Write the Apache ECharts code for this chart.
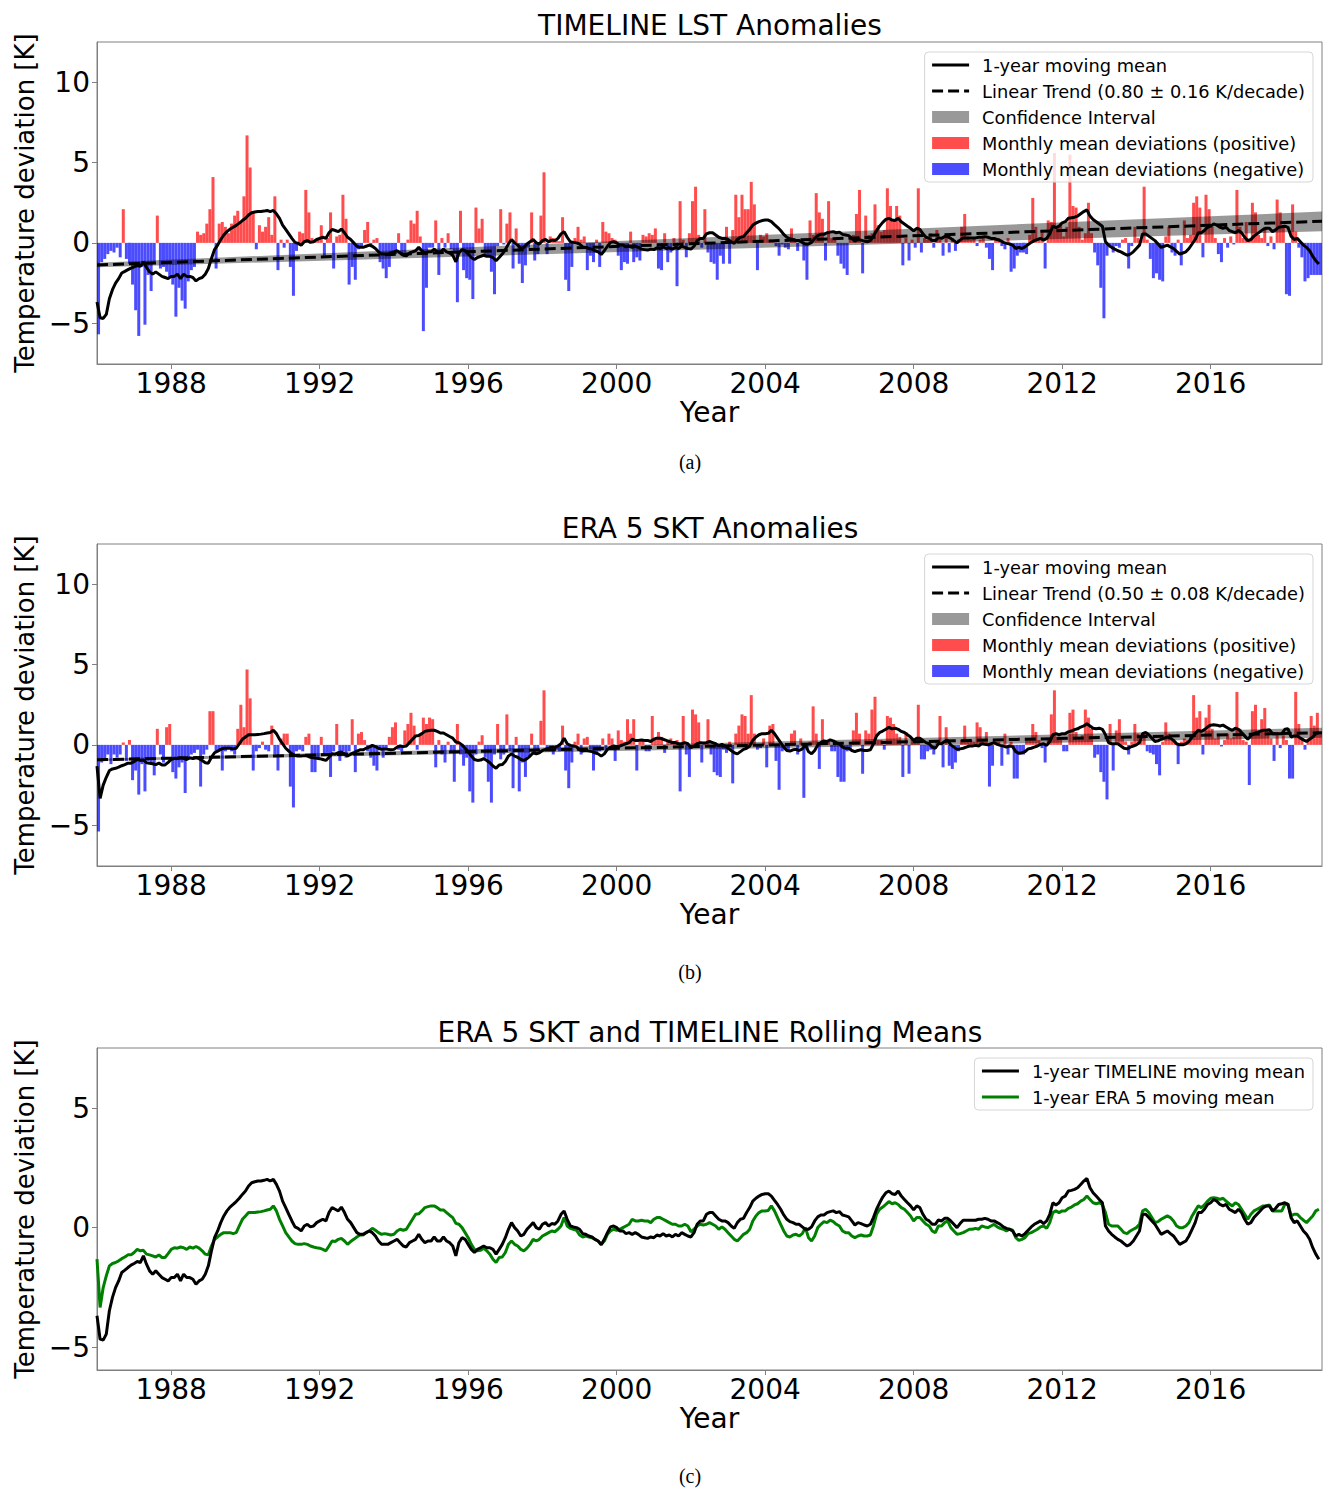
<!DOCTYPE html>
<html>
<head>
<meta charset="utf-8">
<title>TIMELINE LST and ERA 5 SKT anomalies</title>
<script src="https://cdn.jsdelivr.net/npm/echarts@6/dist/echarts.min.js"></script>
<style>
  html, body { margin: 0; padding: 0; background: #ffffff; }
  #chart { width: 1325px; height: 1488px; }
</style>
</head>
<body>
<div id="chart"></div>
<script>
// monthly anomalies [K], Jan 1986 .. Dec 2018, one row per year
var lstMonthly = [
  -5.7, -1.2, -1.0, -0.7, -0.5, -0.6, -0.3, -0.9, 2.1, -1.0, -1.3, -2.6,   // 1986
  -4.2, -5.8, -1.5, -5.1, -2.0, -3.0, -1.2, 1.7, -1.6, -1.5, -1.8, -2.2,   // 1987
  -2.6, -4.6, -2.8, -3.6, -4.1, -2.4, -1.7, -1.5, 0.7, 0.5, 0.6, 1.2,      // 1988
  2.1, 4.1, -1.6, 1.2, 1.3, 1.0, 0.6, 1.2, 1.7, 2.0, 1.3, 2.9,             // 1989
  6.7, 4.7, 1.9, -0.4, 1.1, 0.7, 1.0, 1.6, 0.5, 2.9, -1.7, 0.2,            // 1990
  -0.3, 0.2, -1.5, -3.3, -0.5, 0.7, 0.6, 3.3, 1.9, 0.3, 0.2, 0.3,          // 1991
  1.1, -0.8, 0.3, 1.9, -1.6, 0.4, 0.5, 3.0, 1.5, -2.6, -1.5, -2.3,         // 1992
  -0.4, -0.3, 0.8, 1.3, -0.2, 0.2, 0.3, -1.2, -1.6, -2.2, -1.5, -0.8,      // 1993
  -0.7, 0.6, -0.7, -0.6, 0.2, 1.4, 1.2, 2.0, 0.4, -5.5, -2.8, -0.3,        // 1994
  -0.3, 1.4, -2.0, 0.3, -0.3, 0.6, -0.4, -0.6, -3.7, 2.0, -1.7, -2.2,      // 1995
  -2.3, -3.5, 2.2, 0.9, 1.5, -0.8, -0.8, -1.8, -3.2, -0.2, 2.1, -0.1,      // 1996
  1.2, 1.9, -1.6, 0.9, -1.3, -2.5, -1.4, -0.3, 1.9, -1.1, -0.7, 1.7,       // 1997
  4.4, -0.7, 0.4, 0.3, 0.2, 0.1, 1.6, -2.3, -3.0, -1.5, 0.3, 1.0,          // 1998
  0.2, 0.4, -1.7, -0.8, -1.2, 0.2, -1.5, 1.3, 0.7, 0.6, 0.3, 0.2,          // 1999
  -0.8, -1.7, -1.2, -1.3, 0.7, -1.2, -0.9, -1.1, 0.5, 0.4, 0.6, 0.5,       // 2000
  0.9, -1.6, -1.7, 0.6, -1.2, -0.6, 0.3, -2.7, 2.6, 0.2, -0.9, 0.6,        // 2001
  2.6, 3.5, 0.5, -0.3, 2.1, -0.6, -1.2, -1.3, -2.3, -0.8, -1.3, 1.0,       // 2002
  -1.3, 0.8, 3.0, 1.6, 3.0, 2.1, 2.1, 3.8, 2.4, -1.7, 0.5, 0.4,            // 2003
  0.6, 0.2, 0.1, -0.2, -0.8, -0.1, -0.3, -0.4, 0.9, 0.2, -0.5, 0.2,        // 2004
  -1.1, -2.3, 1.4, 0.5, 3.1, 1.9, 1.5, -1.1, 2.6, 0.3, 0.2, -0.8,          // 2005
  -1.3, -1.6, -2.0, 0.3, 0.5, 1.8, 3.3, -1.9, 1.7, 0.5, 0.6, 2.4,          // 2006
  1.1, 0.7, 0.8, 3.4, 2.3, 1.4, 2.3, 1.7, -1.4, 0.3, -1.1, 0.2,            // 2007
  -0.3, 3.4, -0.6, 0.3, 0.2, 0.6, -0.3, 0.8, 0.2, -0.8, 0.4, -0.6,         // 2008
  0.3, -0.5, 0.2, 1.0, 1.8, 0.4, 0.2, 0.3, -0.2, 0.2, 0.3, -0.3,           // 2009
  -1.0, -1.7, 0.2, 0.3, -0.2, -0.4, 0.3, -1.8, -1.6, -0.8, -0.6, -0.6,     // 2010
  -0.7, 0.5, 2.8, 1.0, 0.3, 0.8, -1.6, 1.4, 1.3, 5.6, 1.0, 1.2,            // 2011
  0.4, 1.0, 5.5, 2.3, 2.2, 1.0, 0.2, 0.6, 2.5, 0.6, -0.6, -1.4,            // 2012
  -2.8, -4.7, -0.8, -0.3, -0.6, -0.2, -0.3, 0.2, 0.3, -1.6, -0.2, 1.0,     // 2013
  0.3, 0.2, 3.5, 0.2, -1.0, -2.2, -1.9, -2.3, -2.4, 0.4, 1.0, -0.6,        // 2014
  -0.8, 0.2, -1.4, 1.4, 0.3, 0.5, 2.5, 2.9, 2.2, -0.9, 3.0, 2.1,           // 2015
  1.0, 0.3, -0.7, -1.2, 0.3, -0.3, 0.4, -0.1, 3.3, 1.0, 0.3, 1.3,          // 2016
  0.2, 2.5, 1.9, 0.5, 0.3, 1.0, -0.2, 0.4, -0.4, 2.7, 1.9, 1.0,            // 2017
  -3.2, -3.3, 2.4, 0.7, -0.3, -0.9, -2.4, -2.2, -2.0, -2.0, -2.0, -2.0     // 2018
];

var sktMonthly = [
  -5.4, -1.1, -1.0, -0.6, -1.2, -0.6, -0.8, -0.6, 0.15, -1.0, 0.3, -2.2,   // 1986
  -1.6, -3.1, -1.2, -2.9, -1.0, -1.2, -1.9, 1.0, -0.6, -1.1, 1.1, 1.3,     // 1987
  -1.7, -2.1, -1.4, -1.1, -3.0, -0.8, -0.6, -0.5, -0.3, -2.6, -0.6, -0.3,  // 1988
  2.1, 2.1, -0.4, -0.3, -1.6, -0.4, -0.2, -0.4, -0.6, 1.0, 2.5, 1.1,       // 1989
  4.7, 2.9, -1.6, -0.4, -0.2, 0.2, -0.3, -0.4, 1.2, -0.6, -1.6, 0.4,       // 1990
  0.7, 0.7, -2.6, -3.9, -0.4, -0.3, -0.4, 0.5, 0.7, -1.7, -1.7, -0.8,      // 1991
  0.5, -0.6, -0.5, -2.0, -0.4, 1.3, -1.0, -0.4, -0.8, -0.4, 1.6, -1.7,     // 1992
  0.7, 0.8, 0.3, -0.4, -0.8, -1.3, -1.6, -0.3, -0.8, -0.3, 0.5, 1.1,       // 1993
  1.4, -0.3, -0.4, 0.9, 1.3, 2.0, 1.2, -0.3, 0.7, 1.7, 1.3, 1.7,           // 1994
  1.6, -1.4, 0.3, -0.6, -1.1, 0.2, -0.4, -2.3, 1.3, -0.6, -1.3, -0.8,      // 1995
  -2.9, -3.6, -0.6, 0.2, 0.6, -0.8, -2.3, -3.6, -0.6, 1.3, -0.9, -0.6,     // 1996
  1.9, -0.4, -2.7, 0.5, -2.9, -1.1, -2.0, -0.7, 0.7, -0.5, -0.3, 1.5,      // 1997
  3.4, -0.3, -0.4, -0.6, -0.3, -0.4, 1.2, -1.6, -2.7, -1.1, 0.2, 0.7,      // 1998
  -0.6, 0.4, 0.5, -0.3, -1.6, -0.6, -0.4, 0.4, -0.3, 0.7, 0.4, -1.0,       // 1999
  0.9, 0.3, 0.2, 1.6, 0.7, 1.6, -1.6, 0.2, 0.3, -0.4, -0.4, 1.8,           // 2000
  0.3, 0.8, 0.5, -0.5, 0.2, 0.4, 0.2, 0.3, -2.9, 1.8, -0.6, -2.0,          // 2001
  2.2, 1.9, 1.4, -1.1, 0.2, 1.6, -0.6, -1.7, -1.9, -2.0, -0.3, -0.5,       // 2002
  0.2, -2.4, 0.7, 1.2, 1.9, 1.8, 0.7, 3.1, 0.7, -0.3, -0.2, 0.4,           // 2003
  -1.4, 1.2, 1.3, -1.0, -2.8, -0.4, -0.3, -0.4, 0.7, 0.9, -0.6, 0.4,       // 2004
  -3.3, -0.3, 0.2, 2.4, 0.7, -1.5, 1.6, 0.2, 0.2, -0.4, -0.4, -2.0,        // 2005
  -2.3, -2.3, -0.4, -0.3, 0.9, 2.0, 0.7, -1.8, 0.9, 0.7, 2.2, 3.0,         // 2006
  0.3, 0.3, -0.3, 1.8, 1.7, 1.3, 0.7, 0.5, -2.0, 0.8, -1.8, 0.4,           // 2007
  0.2, 2.5, -0.9, -0.9, -0.4, -0.3, -0.6, 0.3, 1.8, -1.4, 1.1, -1.3,       // 2008
  -1.5, -1.1, -0.4, 0.3, 1.2, 0.2, 0.3, 0.2, 1.4, 1.1, 0.3, 0.8,           // 2009
  -2.6, -1.3, 0.2, 0.2, -1.3, 0.7, -0.6, 0.2, -2.1, -2.1, -0.6, -0.6,      // 2010
  0.3, 0.4, 1.3, 0.8, 0.3, -0.2, -1.1, 0.4, 1.9, 3.4, 0.5, 0.3,            // 2011
  -0.4, -0.4, 2.0, 2.2, 0.8, 0.4, 0.6, 2.2, 1.7, 1.0, -0.8, -0.6,          // 2012
  -1.7, -2.3, -3.4, 1.3, -1.6, 0.9, 1.6, 0.5, 0.2, -0.6, 0.2, 1.3,         // 2013
  0.7, 0.3, 0.7, -0.4, -0.5, -0.6, -1.2, -1.9, 0.2, 1.4, 0.7, 0.3,         // 2014
  0.2, -1.2, 0.2, 0.4, 0.3, 0.6, 3.1, 1.7, 2.1, -0.6, 1.7, 2.5,            // 2015
  1.0, 0.4, 0.7, -0.1, 0.3, 0.7, 0.4, 0.5, 3.3, 1.0, 0.3, 0.2,             // 2016
  -2.5, 2.1, 2.5, 0.8, 1.6, 2.3, 1.0, 0.4, -1.0, 0.8, -0.2, 0.6,           // 2017
  0.3, -2.1, -2.1, 3.3, 1.3, 0.3, -0.3, 0.4, 1.8, 1.2, 2.0, 0.8            // 2018
];

// 1-year moving means [K], same months
var lstRolling = [
  -3.69, -4.67, -4.71, -4.46, -3.48, -2.92, -2.51, -2.23, -1.88, -1.78, -1.67, -1.57,
  -1.50, -1.42, -1.46, -1.18, -1.53, -1.81, -1.95, -1.81, -1.95, -2.09, -2.16, -2.23,
  -2.09, -2.09, -1.95, -2.23, -1.95, -2.09, -2.09, -2.16, -2.37, -2.23, -2.16, -1.95,
  -1.60, -0.97, -0.42, -0.14, 0.21, 0.49, 0.70, 0.86, 0.97, 1.09, 1.23, 1.39,
  1.53, 1.74, 1.88, 1.92, 1.95, 1.95, 1.98, 2.02, 1.95, 2.02, 1.81, 1.53,
  1.11, 0.84, 0.56, 0.28, 0.03, -0.03, -0.14, 0.07, 0.14, 0.03, 0.07, 0.21,
  0.28, 0.35, 0.28, 0.63, 0.84, 0.77, 0.70, 0.86, 0.63, 0.35, 0.21, 0.00,
  -0.21, -0.28, -0.28, -0.21, -0.14, -0.21, -0.35, -0.56, -0.70, -0.70, -0.70, -0.63,
  -0.56, -0.49, -0.63, -0.77, -0.81, -0.63, -0.56, -0.49, -0.28, -0.49, -0.63, -0.56,
  -0.56, -0.39, -0.56, -0.56, -0.39, -0.56, -0.63, -0.77, -1.18, -0.63, -0.42, -0.49,
  -0.70, -0.91, -1.04, -0.91, -0.84, -0.77, -0.84, -0.84, -0.91, -1.11, -0.91, -0.70,
  -0.42, -0.07, 0.21, 0.00, -0.14, -0.35, -0.28, -0.07, 0.07, 0.21, 0.00, -0.07,
  0.14, 0.21, 0.07, 0.17, 0.14, 0.28, 0.56, 0.70, 0.35, 0.07, 0.03, 0.00,
  -0.07, -0.25, -0.28, -0.35, -0.39, -0.49, -0.56, -0.72, -0.49, -0.21, 0.03, 0.07,
  0.00, -0.14, -0.14, -0.25, -0.21, -0.28, -0.21, -0.28, -0.39, -0.42, -0.45, -0.39,
  -0.42, -0.31, -0.35, -0.25, -0.35, -0.31, -0.39, -0.28, -0.35, -0.21, -0.28, -0.35,
  -0.39, -0.21, 0.14, 0.28, 0.28, 0.56, 0.63, 0.63, 0.49, 0.35, 0.28, 0.28,
  0.21, 0.07, -0.03, 0.21, 0.35, 0.39, 0.63, 0.84, 1.11, 1.23, 1.32, 1.39,
  1.42, 1.42, 1.32, 1.14, 0.97, 0.77, 0.53, 0.35, 0.25, 0.21, 0.14, 0.14,
  0.03, -0.07, -0.07, 0.03, 0.28, 0.45, 0.53, 0.53, 0.63, 0.67, 0.70, 0.63,
  0.67, 0.53, 0.49, 0.45, 0.28, 0.11, 0.21, 0.17, 0.11, 0.07, 0.14, 0.42,
  0.77, 1.04, 1.28, 1.46, 1.53, 1.42, 1.39, 1.53, 1.32, 1.18, 1.04, 0.91,
  0.74, 0.91, 0.84, 0.56, 0.35, 0.28, 0.14, 0.14, 0.32, 0.28, 0.39, 0.39,
  0.28, 0.14, 0.00, 0.17, 0.31, 0.31, 0.31, 0.31, 0.31, 0.35, 0.35, 0.39,
  0.35, 0.28, 0.28, 0.21, 0.14, 0.03, -0.03, -0.07, -0.14, -0.35, -0.28, -0.35,
  -0.25, -0.11, 0.03, 0.14, 0.21, 0.28, 0.17, 0.28, 0.56, 1.04, 0.95, 1.04,
  1.25, 1.32, 1.53, 1.56, 1.60, 1.67, 1.81, 1.95, 2.06, 1.67, 1.46, 1.32,
  1.18, 1.04, 0.07, -0.14, -0.28, -0.39, -0.49, -0.56, -0.67, -0.77, -0.70, -0.56,
  -0.35, -0.14, 0.56, 0.56, 0.42, 0.28, 0.14, -0.07, -0.28, -0.21, -0.14, -0.25,
  -0.35, -0.53, -0.70, -0.63, -0.56, -0.35, -0.07, 0.21, 0.63, 0.63, 0.77, 0.97,
  1.04, 1.18, 1.11, 0.97, 0.91, 0.97, 0.77, 0.70, 0.63, 0.77, 0.63, 0.35,
  0.14, 0.21, 0.42, 0.56, 0.70, 0.84, 0.91, 0.91, 0.70, 0.81, 0.97, 1.00,
  1.04, 0.97, 0.42, 0.21, 0.28, 0.07, -0.14, -0.28, -0.49, -0.84, -1.11, -1.32
];

var sktRolling = [
  -1.32, -3.34, -2.51, -2.02, -1.60, -1.50, -1.46, -1.39, -1.30, -1.23, -1.14, -1.14,
  -1.04, -0.91, -0.97, -0.95, -1.11, -1.14, -1.18, -1.23, -1.14, -1.25, -1.25, -1.09,
  -0.91, -0.84, -0.86, -0.81, -0.84, -0.91, -0.81, -0.86, -0.79, -0.86, -0.97, -1.11,
  -1.14, -0.77, -0.49, -0.39, -0.28, -0.21, -0.21, -0.21, -0.25, -0.21, 0.07, 0.35,
  0.49, 0.63, 0.63, 0.63, 0.65, 0.67, 0.70, 0.74, 0.77, 0.91, 0.70, 0.35,
  0.07, -0.21, -0.39, -0.56, -0.67, -0.70, -0.70, -0.67, -0.70, -0.77, -0.81, -0.84,
  -0.86, -0.91, -0.97, -0.77, -0.56, -0.58, -0.49, -0.45, -0.56, -0.70, -0.58, -0.49,
  -0.39, -0.31, -0.31, -0.21, -0.14, -0.03, -0.11, -0.21, -0.28, -0.25, -0.28, -0.31,
  -0.28, -0.14, -0.07, -0.11, -0.07, 0.14, 0.35, 0.56, 0.58, 0.70, 0.84, 0.88,
  0.91, 0.91, 0.84, 0.74, 0.74, 0.63, 0.52, 0.42, 0.18, 0.14, 0.00, -0.21,
  -0.42, -0.70, -0.91, -0.97, -0.95, -0.86, -0.97, -1.11, -1.32, -1.46, -1.25, -1.23,
  -1.04, -0.70, -0.56, -0.70, -0.77, -0.91, -0.97, -0.86, -0.70, -0.49, -0.56, -0.49,
  -0.35, -0.28, -0.21, -0.14, -0.17, -0.07, 0.07, 0.42, 0.07, -0.03, -0.07, -0.11,
  -0.31, -0.39, -0.35, -0.39, -0.42, -0.49, -0.56, -0.70, -0.56, -0.28, -0.14, -0.07,
  -0.11, -0.07, 0.00, 0.07, 0.14, 0.35, 0.28, 0.28, 0.31, 0.28, 0.28, 0.21,
  0.35, 0.42, 0.42, 0.35, 0.28, 0.21, 0.14, 0.14, 0.07, 0.07, 0.14, 0.07,
  -0.17, -0.07, 0.07, 0.14, 0.11, 0.14, 0.21, 0.14, 0.07, -0.07, 0.03, -0.07,
  -0.21, -0.35, -0.49, -0.56, -0.42, -0.28, -0.21, -0.07, 0.28, 0.49, 0.63, 0.70,
  0.70, 0.72, 0.91, 0.70, 0.42, 0.14, -0.14, -0.35, -0.39, -0.31, -0.28, -0.35,
  -0.25, 0.00, -0.42, -0.56, -0.35, 0.00, 0.14, 0.25, 0.21, 0.31, 0.25, 0.14,
  0.07, -0.14, -0.21, -0.21, -0.35, -0.42, -0.35, -0.31, -0.35, -0.35, -0.31, 0.07,
  0.56, 0.77, 0.86, 0.97, 1.09, 1.00, 1.04, 0.97, 0.84, 0.77, 0.63, 0.49,
  0.28, 0.42, 0.42, 0.28, 0.14, 0.07, -0.14, -0.21, 0.07, 0.07, 0.21, 0.28,
  0.00, -0.14, -0.28, -0.25, -0.21, -0.14, -0.07, -0.07, -0.03, -0.07, 0.07, 0.03,
  0.00, 0.07, 0.14, 0.03, -0.03, -0.07, -0.14, -0.07, -0.11, -0.42, -0.53, -0.49,
  -0.42, -0.25, -0.21, -0.14, -0.07, 0.03, 0.07, -0.03, 0.21, 0.63, 0.70, 0.63,
  0.70, 0.70, 0.81, 0.86, 0.95, 1.00, 1.11, 1.18, 1.32, 1.18, 1.04, 1.00,
  1.04, 0.97, 0.63, 0.14, 0.07, 0.07, 0.07, -0.07, -0.21, -0.25, -0.14, -0.07,
  0.00, 0.14, 0.70, 0.77, 0.63, 0.42, 0.21, 0.25, 0.35, 0.42, 0.49, 0.42,
  0.28, 0.07, 0.00, 0.00, 0.07, 0.21, 0.49, 0.70, 0.91, 0.84, 0.95, 1.11,
  1.23, 1.25, 1.23, 1.18, 1.23, 1.11, 1.00, 0.91, 1.04, 0.97, 0.77, 0.56,
  0.35, 0.56, 0.70, 0.77, 0.84, 0.91, 0.91, 0.95, 0.70, 0.70, 0.70, 0.70,
  0.97, 1.00, 0.49, 0.56, 0.56, 0.42, 0.31, 0.21, 0.35, 0.49, 0.70, 0.77
];

// linear trends and confidence bands, at the two ends of the record
var trendYears = [1986, 2019];
var lstTrend = [-1.38, 1.35];
var lstCiLow = [-1.52, 0.72];
var lstCiHigh = [-1.24, 1.95];
var sktTrend = [-0.93, 0.76];
var sktCiLow = [-1.00, 0.45];
var sktCiHigh = [-0.86, 1.07];

var xTicks = [1988, 1992, 1996, 2000, 2004, 2008, 2012, 2016];
var yTicksAnom = [-5, 0, 5, 10];
var yTicksMeans = [-5, 0, 5];

var FONT = 'DejaVu Sans';
var FRAME = '#808080';
var POS = 'Monthly mean deviations (positive)';
var NEG = 'Monthly mean deviations (negative)';

function monthYear(i) {
  return 1986 + i / 12;
}

function lineData(vals) {
  return vals.map(function (v, i) { return [monthYear(i), v]; });
}

function barData(vals, positive) {
  var out = [];
  vals.forEach(function (v, i) {
    if (positive ? v >= 0 : v < 0) out.push([monthYear(i + 0.5), v]);
  });
  return out;
}

function minusFmt(v) {
  return v < 0 ? '\u2212' + Math.abs(v) : String(v);
}

function makeX(gi) {
  return {
    type: 'value', gridIndex: gi, min: 1986, max: 2019,
    name: 'Year', nameLocation: 'middle', nameGap: 34,
    nameTextStyle: { fontSize: 28, color: '#000', fontFamily: FONT },
    axisLine: { show: true, onZero: false, lineStyle: { color: FRAME } },
    axisTick: { show: true, customValues: xTicks, length: 5, lineStyle: { color: FRAME } },
    axisLabel: {
      customValues: xTicks, fontSize: 28, color: '#000', fontFamily: FONT, margin: 5,
      formatter: function (v) { return String(v); }
    },
    splitLine: { show: false }
  };
}

function makeY(gi, min, max, ticks) {
  return {
    type: 'value', gridIndex: gi, min: min, max: max,
    name: 'Temperature deviation [K]', nameLocation: 'middle', nameGap: 59,
    nameTextStyle: { fontSize: 26, color: '#000', fontFamily: FONT },
    axisLine: { show: true, onZero: false, lineStyle: { color: FRAME } },
    axisTick: { show: true, customValues: ticks, length: 5, lineStyle: { color: FRAME } },
    axisLabel: { customValues: ticks, formatter: minusFmt, fontSize: 28, color: '#000', fontFamily: FONT, margin: 7 },
    splitLine: { show: false }
  };
}

function bandSeries(gi, low, high) {
  return {
    type: 'custom', name: 'Confidence Interval',
    xAxisIndex: gi, yAxisIndex: gi, z: 3, clip: true,
    itemStyle: { color: 'rgba(0,0,0,0.4)' },
    data: [[trendYears[0], low[0]], [trendYears[1], high[1]]],
    renderItem: function (params, api) {
      if (params.dataIndex !== 0) return;
      var pts = [
        api.coord([trendYears[0], low[0]]),
        api.coord([trendYears[1], low[1]]),
        api.coord([trendYears[1], high[1]]),
        api.coord([trendYears[0], high[0]])
      ];
      return { type: 'polygon', shape: { points: pts }, style: { fill: 'rgba(0,0,0,0.4)' } };
    }
  };
}

function anomalySeries(gi, monthly, rolling, trend, low, high, trendName) {
  return [
    {
      type: 'bar', name: POS, xAxisIndex: gi, yAxisIndex: gi, z: 2,
      barWidth: 3, barGap: '-100%', itemStyle: { color: 'rgba(255,0,0,0.7)' },
      data: barData(monthly, true)
    },
    {
      type: 'bar', name: NEG, xAxisIndex: gi, yAxisIndex: gi, z: 2,
      barWidth: 3, barGap: '-100%', itemStyle: { color: 'rgba(0,0,255,0.7)' },
      data: barData(monthly, false)
    },
    bandSeries(gi, low, high),
    {
      type: 'line', name: trendName, xAxisIndex: gi, yAxisIndex: gi, z: 4,
      symbol: 'none', itemStyle: { color: '#000' },
      lineStyle: { color: '#000', width: 3, type: [11, 5] },
      data: [[trendYears[0], trend[0]], [trendYears[1], trend[1]]]
    },
    {
      type: 'line', name: '1-year moving mean', xAxisIndex: gi, yAxisIndex: gi, z: 5,
      symbol: 'none', itemStyle: { color: '#000' },
      lineStyle: { color: '#000', width: 3 },
      data: lineData(rolling)
    }
  ];
}

// legend entry for a line series: thick line only, no marker
function lineEntry(name, dashed) {
  return {
    name: name,
    itemStyle: { opacity: 0 },
    lineStyle: { width: 3, type: dashed ? [11, 5] : 'solid' }
  };
}

function legendBox(top, names) {
  return {
    orient: 'vertical', right: 12, top: top,
    itemWidth: 37, itemHeight: 12, itemGap: 6,
    padding: [3, 8, 3, 6],
    backgroundColor: 'rgba(255,255,255,0.8)', borderColor: '#d6d6d6', borderWidth: 1, borderRadius: 4,
    selectedMode: false,
    textStyle: { fontSize: 17.8, color: '#000', fontFamily: FONT, lineHeight: 20, padding: [0, 0, 0, 8] },
    data: names
  };
}

function label(text, x, y, size, family) {
  return {
    type: 'text', x: x, y: y, silent: true,
    style: { text: text, fontSize: size, fontFamily: family, fill: '#000', align: 'center', verticalAlign: 'middle' }
  };
}

var trendA = 'Linear Trend (0.80 \u00b1 0.16 K/decade)';
var trendB = 'Linear Trend (0.50 \u00b1 0.08 K/decade)';

var option = {
  animation: false,
  backgroundColor: '#ffffff',
  grid: [
    { left: 97, right: 3, top: 42, height: 322, show: true, borderColor: FRAME, borderWidth: 1 },
    { left: 97, right: 3, top: 544, height: 322, show: true, borderColor: FRAME, borderWidth: 1 },
    { left: 97, right: 3, top: 1048, height: 322, show: true, borderColor: FRAME, borderWidth: 1 }
  ],
  xAxis: [makeX(0), makeX(1), makeX(2)],
  yAxis: [
    makeY(0, -7.55, 12.52, yTicksAnom),
    makeY(1, -7.55, 12.52, yTicksAnom),
    makeY(2, -5.96, 7.52, yTicksMeans)
  ],
  legend: [
    legendBox(52, [
      lineEntry('1-year moving mean', false),
      lineEntry(trendA, true),
      { name: 'Confidence Interval', icon: 'rect' },
      { name: POS, icon: 'rect' },
      { name: NEG, icon: 'rect' }
    ]),
    legendBox(554, [
      lineEntry('1-year moving mean', false),
      lineEntry(trendB, true),
      { name: 'Confidence Interval', icon: 'rect' },
      { name: POS, icon: 'rect' },
      { name: NEG, icon: 'rect' }
    ]),
    legendBox(1058, [
      lineEntry('1-year TIMELINE moving mean', false),
      lineEntry('1-year ERA 5 moving mean', false)
    ])
  ],
  graphic: [
    label('TIMELINE LST Anomalies', 710, 25, 28, FONT),
    label('ERA 5 SKT Anomalies', 710, 528, 28, FONT),
    label('ERA 5 SKT and TIMELINE Rolling Means', 710, 1032, 28, FONT),
    label('(a)', 690, 462, 20, 'Liberation Serif'),
    label('(b)', 690, 972, 20, 'Liberation Serif'),
    label('(c)', 690, 1476, 20, 'Liberation Serif')
  ],
  series: []
    .concat(anomalySeries(0, lstMonthly, lstRolling, lstTrend, lstCiLow, lstCiHigh, trendA))
    .concat(anomalySeries(1, sktMonthly, sktRolling, sktTrend, sktCiLow, sktCiHigh, trendB))
    .concat([
      {
        type: 'line', name: '1-year TIMELINE moving mean', xAxisIndex: 2, yAxisIndex: 2, z: 5,
        symbol: 'none', itemStyle: { color: '#000' }, lineStyle: { color: '#000', width: 3 },
        data: lineData(lstRolling)
      },
      {
        type: 'line', name: '1-year ERA 5 moving mean', xAxisIndex: 2, yAxisIndex: 2, z: 4,
        symbol: 'none', itemStyle: { color: '#008000' }, lineStyle: { color: '#008000', width: 3 },
        data: lineData(sktRolling)
      }
    ])
};

var chart = echarts.init(document.getElementById('chart'), null, { renderer: 'svg' });
chart.setOption(option);
window.addEventListener('resize', function () { chart.resize(); });
</script>
</body>
</html>
